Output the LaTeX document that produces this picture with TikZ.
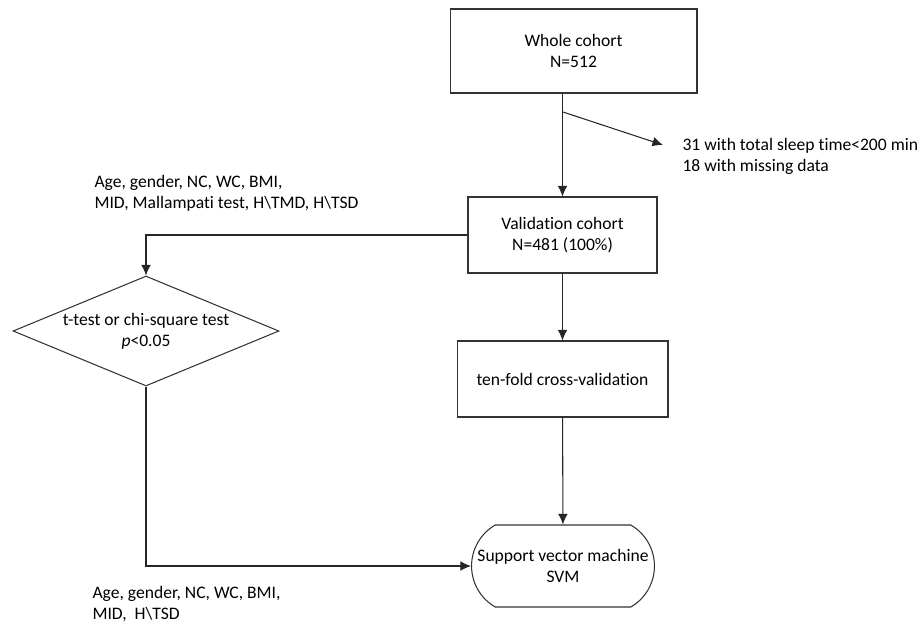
\documentclass[tikz,border=0pt]{standalone}
\usepackage{fontspec}
\setmainfont{Carlito}[Ligatures=NoCommon]
\usetikzlibrary{arrows.meta,shapes.geometric,shapes.misc}
\begin{document}
\begin{tikzpicture}[x=0.02cm,y=-0.02cm,line width=0.6pt,>={Latex[length=6pt,width=5.5pt]},
  box/.style={draw=black!80,align=center,inner sep=2pt},
  txt/.style={align=left,anchor=west,inner sep=0pt}]
\useasboundingbox (0,0) rectangle (922,629);
\node[box,minimum width=4.94cm,minimum height=1.68cm] (whole) at (573.5,51) {Whole cohort\\N=512};
\node[box,minimum width=3.78cm,minimum height=1.52cm] (valid) at (562.5,235) {Validation cohort\\N=481 (100\%)};
\node[box,minimum width=4.22cm,minimum height=1.52cm] (tenfold) at (562.5,379) {ten-fold cross-validation};
\node[box,shape=rounded rectangle,rounded rectangle arc length=120,minimum width=3.8cm,minimum height=1.64cm] (svm) at (563,566) {Support vector machine\\SVM};
\node[box,shape=diamond,aspect=2.42,inner sep=-3pt,minimum width=5.32cm,minimum height=2.2cm] (test) at (146,331) {t-test or chi-square test\\\textit{p}<0.05};
\node[txt] (excl) at (682,156) {31 with total sleep time<200 min\\18 with missing data};
\node[txt] (allvars) at (94,193) {Age, gender, NC, WC, BMI,\\MID, Mallampati test, H\textbackslash TMD, H\textbackslash TSD};
\node[txt] (selvars) at (92,604) {Age, gender, NC, WC, BMI,\\MID, \ H\textbackslash TSD};
\coordinate (split) at (563,112);
\draw[->,black!85] (whole.south -| valid.north) -- (valid.north);
\draw[->,black!85] (split) -- ([xshift=-0.38cm,yshift=0.22cm]excl.west);
\draw[->,black!85] (valid.west) -| (test.north);
\draw[->,black!85] (valid) -- (tenfold);
\draw[->,black!85] (tenfold) -- (svm);
\draw[->,black!85] (test.south) |- (svm.west);
\end{tikzpicture}
\end{document}
